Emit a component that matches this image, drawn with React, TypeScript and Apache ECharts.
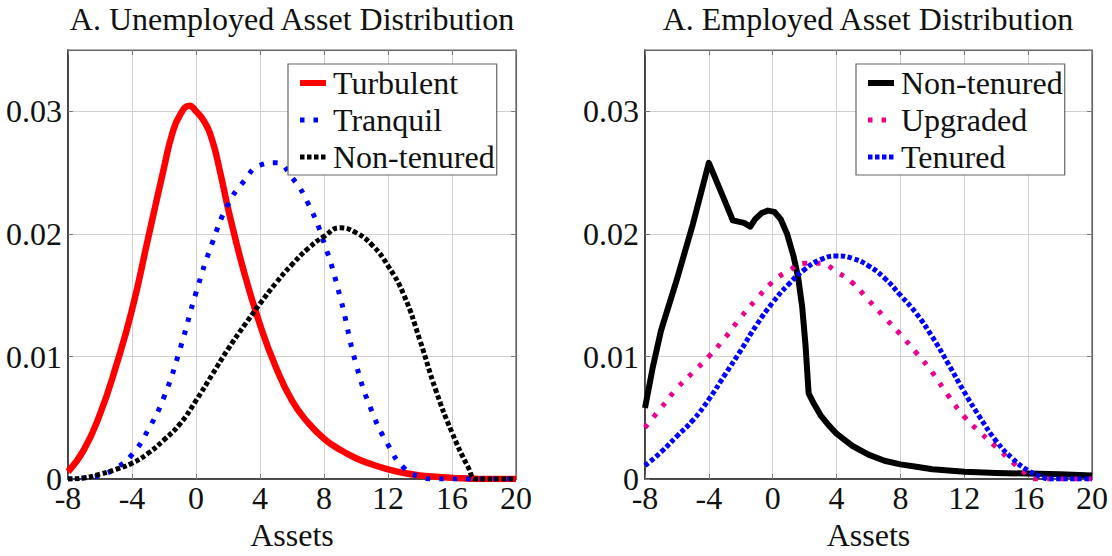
import { useEffect, useRef } from "react";
import * as echarts from "echarts";

// x ticks shared by both panels
const xTicks = [-8, -4, 0, 4, 8, 12, 16, 20];

// left panel: unemployed
const turbulentX = [-8, -7, -6, -5, -4, -3, -2, -1.5, -1, -0.4, 0, 0.5, 1, 1.5, 2, 3, 4, 5, 6, 7, 8, 9, 10, 11, 12, 13, 14, 15, 16, 17, 18, 19, 20];
const turbulentY = [0.0006, 0.0024, 0.0053, 0.0092, 0.0138, 0.0196, 0.0254, 0.0281, 0.0297, 0.03045, 0.03, 0.0292, 0.0277, 0.0251, 0.0221, 0.0169, 0.0126, 0.0091, 0.0064, 0.0046, 0.0033, 0.0024, 0.0017, 0.0012, 0.0008, 0.0005, 0.0003, 0.0002, 0.0001, 0.00005, 0, 0, 0];

const tranquilX = [-8, -7, -6, -5, -4, -3, -2, -1, 0, 1, 2, 3, 4, 5, 6, 7, 8, 9, 10, 11, 12, 13, 14, 15, 16, 17, 18, 19, 20];
const tranquilY = [0, 0.0001, 0.0003, 0.0009, 0.002, 0.004, 0.0067, 0.0106, 0.0152, 0.0192, 0.0224, 0.0243, 0.0256, 0.0258, 0.0246, 0.0225, 0.0193, 0.0149, 0.0094, 0.0055, 0.0028, 0.0009, 0.0002, 0, 0, 0, 0, 0, 0];

const nonTenuredUX = [-8, -7, -6, -5, -4, -3, -2, -1, 0, 1, 2, 3, 4, 5, 6, 7, 8, 9, 10, 11, 12, 13, 14, 15, 16, 17, 17.5, 18, 19, 20];
const nonTenuredUY = [0, 0.0001, 0.0004, 0.0008, 0.0013, 0.0021, 0.0032, 0.0045, 0.0064, 0.0085, 0.0106, 0.0125, 0.0143, 0.016, 0.0175, 0.0188, 0.0198, 0.0205, 0.0201, 0.0191, 0.0174, 0.015, 0.0113, 0.0072, 0.0038, 0.001, 0, 0, 0, 0];

// right panel: employed
const nonTenuredEX = [-8, -7.5, -7, -6, -5, -4, -3.2, -2.5, -1.8, -1.4, -1.1, -0.7, -0.3, 0.1, 0.5, 0.9, 1.3, 1.6, 1.85, 2.05, 2.25, 2.6, 3, 3.5, 4, 4.5, 5, 6, 7, 8, 9, 10, 12, 14, 16, 18, 20];
const nonTenuredEY = [0.0058, 0.0092, 0.0121, 0.0163, 0.0208, 0.0258, 0.0233, 0.0211, 0.0209, 0.0206, 0.0212, 0.0217, 0.0219, 0.0218, 0.0212, 0.02, 0.0182, 0.0164, 0.014, 0.011, 0.007, 0.0061, 0.0052, 0.0044, 0.0037, 0.0032, 0.0027, 0.002, 0.0015, 0.0012, 0.001, 0.0008, 0.0006, 0.0005, 0.00045, 0.0004, 0.0003];

const upgradedX = [-8, -7, -6, -5, -4, -3, -2, -1, 0, 1, 2, 3, 4, 5, 6, 7, 8, 9, 10, 11, 12, 13, 14, 15, 16, 16.4, 17, 18, 19, 20];
const upgradedY = [0.0042, 0.0058, 0.0074, 0.0087, 0.01, 0.0115, 0.0132, 0.0147, 0.0161, 0.017, 0.0176, 0.0176, 0.0169, 0.016, 0.0146, 0.0132, 0.0118, 0.0103, 0.0087, 0.0068, 0.0051, 0.0038, 0.0026, 0.0014, 0.0003, 0, 0, 0, 0, 0];

const tenuredX = [-8, -7, -6, -5, -4, -3, -2, -1, 0, 1, 2, 3, 4, 5, 6, 7, 8, 9, 10, 11, 12, 13, 14, 15, 16, 17, 17.3, 18, 19, 20];
const tenuredY = [0.0011, 0.0022, 0.0035, 0.0048, 0.0065, 0.0085, 0.0105, 0.0126, 0.0144, 0.0159, 0.0171, 0.0179, 0.0182, 0.018, 0.0174, 0.0164, 0.015, 0.0135, 0.0116, 0.0094, 0.0071, 0.005, 0.0031, 0.0017, 0.0007, 0.0001, 0, 0, 0, 0];

const FONT = "Liberation Serif";
const TEXT = "#111";
const SIZE = 32;

const pairs = (xs: number[], ys: number[]) => xs.map((x, i) => [x, ys[i]]);

function xAxisFor(gridIndex: number, mirror: boolean) {
  return {
    type: "value",
    gridIndex,
    position: mirror ? "top" : "bottom",
    min: xTicks[0],
    max: xTicks[xTicks.length - 1],
    interval: 4,
    name: mirror ? "" : "Assets",
    nameLocation: "middle",
    nameGap: 25,
    nameTextStyle: { fontFamily: FONT, fontSize: SIZE, color: TEXT },
    axisLine: { onZero: false, lineStyle: { color: mirror ? "#666" : "#222", width: mirror ? 1.2 : 1.5 } },
    axisTick: { inside: true, length: 5, lineStyle: { color: "#777" } },
    axisLabel: { show: !mirror, fontFamily: FONT, fontSize: SIZE, color: TEXT, margin: 3 },
    splitLine: { show: !mirror, lineStyle: { color: "#d0d0d0", width: 1 } },
  };
}

function yAxisFor(gridIndex: number, mirror: boolean) {
  return {
    type: "value",
    gridIndex,
    position: mirror ? "right" : "left",
    min: 0,
    max: 0.035,
    interval: 0.01,
    axisLine: { show: true, onZero: false, lineStyle: { color: mirror ? "#666" : "#222", width: mirror ? 1.2 : 1.5 } },
    axisTick: { show: true, inside: true, length: 5, lineStyle: { color: "#777" } },
    axisLabel: { show: !mirror, fontFamily: FONT, fontSize: SIZE, color: TEXT, margin: 6, showMaxLabel: false },
    splitLine: { show: !mirror, lineStyle: { color: "#d0d0d0", width: 1 } },
  };
}

function legendFor(left: number, items: any[]) {
  return {
    left,
    top: 64,
    orient: "vertical",
    data: items.map((it) => ({ ...it, itemStyle: { opacity: 0 } })),
    itemWidth: 26,
    itemHeight: 14,
    itemGap: 5,
    padding: [3, 2, 2, 9],
    backgroundColor: "#fff",
    borderColor: "#666",
    borderWidth: 1.2,
    borderRadius: 0,
    selectedMode: false,
    textStyle: { fontFamily: FONT, fontSize: SIZE, color: TEXT, lineHeight: 32, padding: [0, 0, 0, 2] },
  };
}

export default function App() {
  const ref = useRef<HTMLDivElement | null>(null);

  useEffect(() => {
    document.body.style.margin = "0";
    if (!ref.current) return;
    const chart = echarts.init(ref.current, undefined, { renderer: "svg" });

    const line = (name: string, xi: number, data: number[][], color: string, width: number, type: any, smooth: boolean, z: number) => ({
      type: "line",
      name,
      xAxisIndex: xi,
      yAxisIndex: xi,
      data,
      smooth,
      symbol: "none",
      z,
      lineStyle: { color, width, type, cap: "butt", join: "round" },
      itemStyle: { color },
    });

    const titleStyle = { fontFamily: FONT, fontSize: SIZE, fontWeight: "normal", color: TEXT };

    chart.setOption({
      animation: false,
      backgroundColor: "#fff",
      title: [
        { text: "A. Unemployed Asset Distribution", left: 292, top: 3, padding: 0, textAlign: "center", textStyle: titleStyle },
        { text: "A. Employed Asset Distribution", left: 868, top: 3, padding: 0, textAlign: "center", textStyle: titleStyle },
      ],
      grid: [
        { left: 68, top: 50, width: 448, height: 446.5, show: true, borderColor: "#666", borderWidth: 1.2, backgroundColor: "#fff" },
        { left: 645, top: 50, width: 447, height: 446.5, show: true, borderColor: "#666", borderWidth: 1.2, backgroundColor: "#fff" },
      ],
      xAxis: [xAxisFor(0, false), xAxisFor(1, false), xAxisFor(0, true), xAxisFor(1, true)],
      yAxis: [yAxisFor(0, false), yAxisFor(1, false), yAxisFor(0, true), yAxisFor(1, true)],
      legend: [
        legendFor(288, [
          { name: "Turbulent", lineStyle: { color: "#ff0000", width: 6, type: "solid" } },
          { name: "Tranquil", lineStyle: { color: "#0000ff", width: 5, type: [4.5, 9] } },
          { name: "Non-tenured", lineStyle: { color: "#000", width: 5, type: [4.5, 2.5] } },
        ]),
        legendFor(856, [
          { name: "Non-tenured", lineStyle: { color: "#000", width: 6, type: "solid" } },
          { name: "Upgraded", lineStyle: { color: "#ec008c", width: 5, type: [4.5, 9] } },
          { name: "Tenured", lineStyle: { color: "#0000ff", width: 5, type: [4.5, 2.5] } },
        ]),
      ],
      series: [
        line("Turbulent", 0, pairs(turbulentX, turbulentY), "#ff0000", 6.5, "solid", true, 2),
        line("Tranquil", 0, pairs(tranquilX, tranquilY), "#0000ff", 5, [4.5, 9], true, 3),
        line("Non-tenured", 0, pairs(nonTenuredUX, nonTenuredUY), "#000", 5, [4.5, 2.5], true, 4),
        line("Non-tenured", 1, pairs(nonTenuredEX, nonTenuredEY), "#000", 6, "solid", false, 2),
        line("Upgraded", 1, pairs(upgradedX, upgradedY), "#ec008c", 5, [4.5, 9], true, 3),
        line("Tenured", 1, pairs(tenuredX, tenuredY), "#0000ff", 5, [4.5, 2.5], true, 4),
      ],
    });

    return () => chart.dispose();
  }, []);

  return <div ref={ref} style={{ width: 1112, height: 556 }} />;
}
